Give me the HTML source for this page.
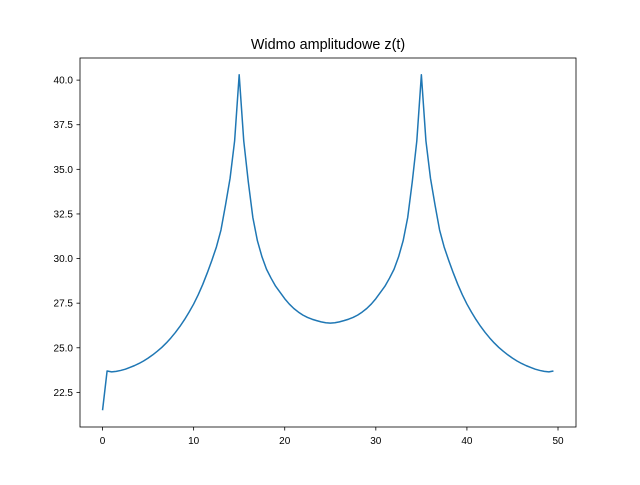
<!DOCTYPE html>
<html><head><meta charset="utf-8"><style>
body{margin:0;background:#fff}
svg text{font-family:"Liberation Sans","DejaVu Sans",sans-serif;fill:#000}
</style></head><body>
<svg id="chart" width="640" height="480" xmlns="http://www.w3.org/2000/svg">
<rect width="640" height="480" fill="#fff"/>
<text x="328" y="49" font-size="14.4" text-anchor="middle">Widmo amplitudowe z(t)</text>
<g id="plot"></g>
<rect x="80" y="58" width="496" height="369" fill="none" stroke="#000" stroke-width="0.8"/>
</svg>
<script>
const xStep = 0.5;
const yValues = [21.5,23.7,23.65,23.68,23.73,23.8,23.9,24.0,24.12,24.26,24.42,24.6,24.8,25.02,25.27,25.55,25.86,26.2,26.58,27.0,27.45,27.97,28.55,29.2,29.9,30.65,31.6,33.0,34.5,36.6,40.3,
36.6,34.3,32.3,31.0,30.1,29.4,28.9,28.45,28.1,27.75,27.45,27.2,27.0,26.83,26.7,26.6,26.52,26.45,26.4,26.38,
26.4,26.45,26.52,26.6,26.7,26.83,27.0,27.2,27.45,27.75,28.1,28.45,28.9,29.4,30.1,31.0,32.3,34.3,36.6,40.3,
36.6,34.5,33.0,31.6,30.65,29.9,29.2,28.55,27.97,27.45,27.0,26.58,26.2,25.86,25.55,25.27,25.02,24.8,24.6,24.42,24.26,24.12,24.0,23.9,23.8,23.73,23.68,23.65,23.7];
const xTicks = [0,10,20,30,40,50];
const yTicks = [22.5,25.0,27.5,30.0,32.5,35.0,37.5,40.0];

const L=80,R=576,T=58,B=427;
const xs = yValues.map((v,i)=>i*xStep);
const xmin=Math.min(...xs),xmax=Math.max(...xs);
const xpad=(xmax-xmin)*0.05;
const ymin=Math.min(...yValues),ymax=Math.max(...yValues);
const ypad=(ymax-ymin)*0.05;
const X=v=>L+(v-(xmin-xpad))/((xmax-xmin)+2*xpad)*(R-L);
const Y=v=>B-(v-(ymin-ypad))/((ymax-ymin)+2*ypad)*(B-T);
const NS="http://www.w3.org/2000/svg";
const g=document.getElementById('plot');
function mk(tag,attrs){const e=document.createElementNS(NS,tag);for(const k in attrs)e.setAttribute(k,attrs[k]);g.appendChild(e);return e;}
xTicks.forEach(t=>{
  const l=mk('line',{x1:X(t),x2:X(t),y1:B,y2:B+3.5,stroke:'#000','stroke-width':0.8});
  
  
  const tx=mk('text',{x:X(t),y:B+17,'font-size':10,'text-anchor':'middle'});
  tx.textContent=t;
  
  
});
yTicks.forEach(t=>{
  const l=mk('line',{x1:L-3.5,x2:L,y1:Y(t),y2:Y(t),stroke:'#000','stroke-width':0.8});
  
  
  const tx=mk('text',{x:L-7,y:Y(t)+3.5,'font-size':10,'text-anchor':'end'});
  tx.textContent=t.toFixed(1);
  
  
});
const p=mk('polyline',{points:yValues.map((v,i)=>X(xs[i]).toFixed(2)+','+Y(v).toFixed(2)).join(' '),fill:'none',stroke:'#1f77b4','stroke-width':1.5,'stroke-linejoin':'round'});


</script>
</body></html>
